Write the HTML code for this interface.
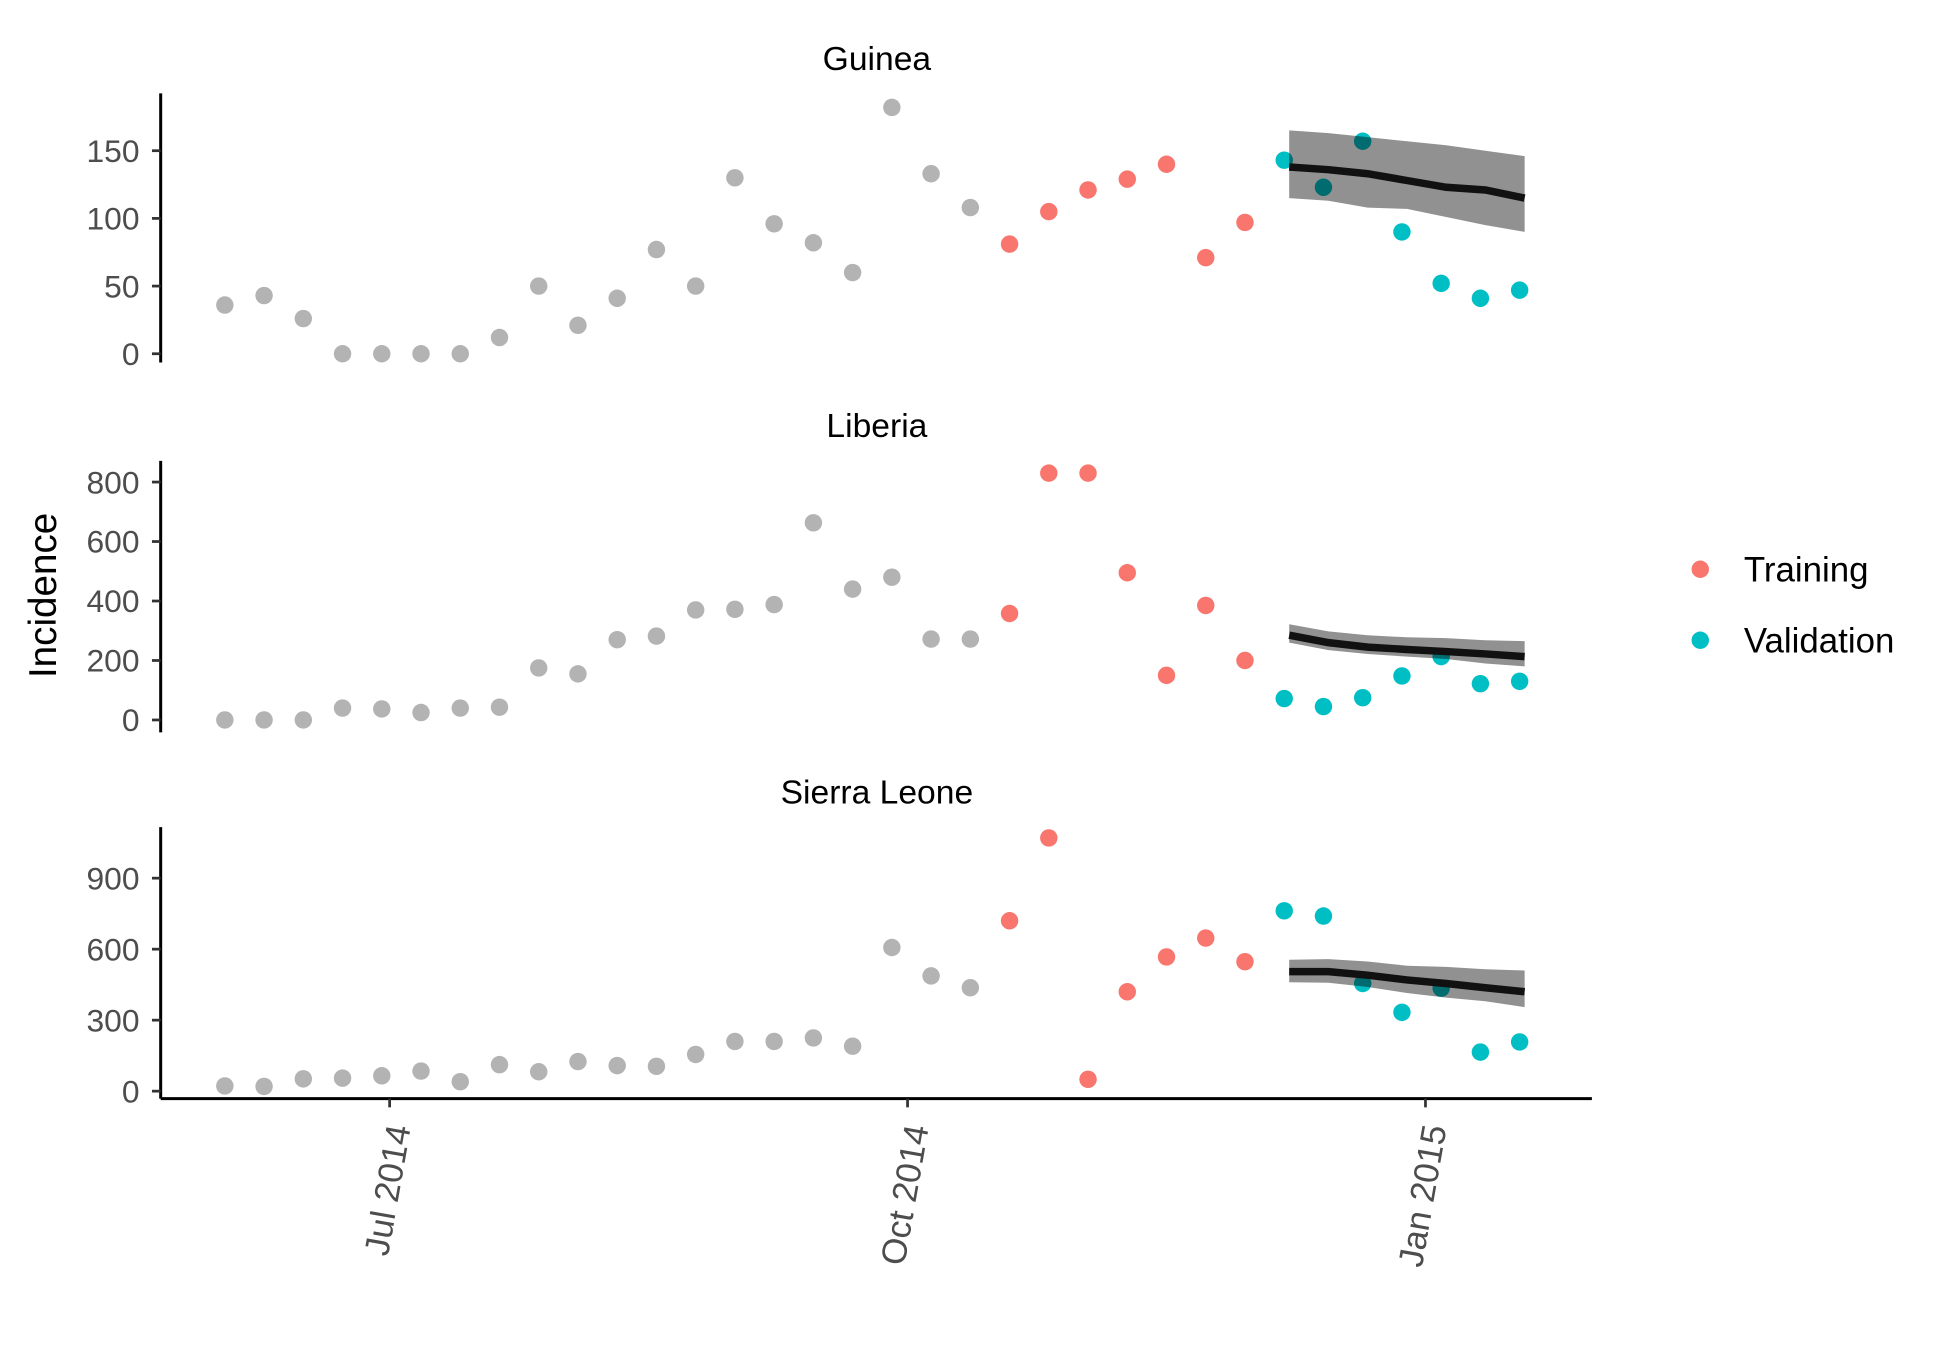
<!DOCTYPE html>
<html><head><meta charset="utf-8"><style>
html,body{margin:0;padding:0;background:#fff;}
svg{display:block;}
text{font-family:"Liberation Sans",Arial,sans-serif;}
</style></head><body>
<svg id="chart" width="1950" height="1349" viewBox="0 0 1565.5 1083" preserveAspectRatio="none" xmlns="http://www.w3.org/2000/svg">
<rect width="1570" height="1090" fill="#fff"/>
<text x="0" y="0" transform="translate(45,478) rotate(-90)" text-anchor="middle" font-size="31" fill="#000">Incidence</text>
<g>
<circle cx="1365" cy="457" r="7" fill="#F8766D"/>
<text x="1400" y="467" font-size="28">Training</text>
<circle cx="1365" cy="514" r="7" fill="#00BFC4"/>
<text x="1400" y="524" font-size="28">Validation</text>
</g>
</svg>
<script>
const countries = ["Guinea","Liberia","Sierra Leone"];
const guineaObs = [36,43,26,0,0,0,0,12,50,21,41,77,50,130,96,82,60,182,133,108,81,105,121,129,140,71,97,143,123,157,90,52,41,47];
const liberiaObs = [0,0,0,40,37,25,40,43,175,155,270,282,370,372,388,663,440,480,272,272,358,830,830,495,150,385,200,72,45,75,148,213,122,130];
const sierraObs = [22,20,52,55,65,85,40,112,82,125,108,105,155,210,210,225,190,607,487,437,720,1070,50,420,567,647,547,762,740,455,333,435,165,208];
const guineaMean = [138,136,133,128,123,121,115];
const guineaUpper = [165,163,160,157,154,150,146];
const guineaLower = [115,113,108,107,101,95,90];
const liberiaMean = [285,260,245,237,230,222,213];
const liberiaUpper = [322,298,285,278,275,268,265];
const liberiaLower = [260,235,222,213,205,190,180];
const sierraMean = [505,505,490,470,455,437,420];
const sierraUpper = [555,558,548,530,525,515,510];
const sierraLower = [460,458,440,415,395,380,355];
const guineaTicks = [0,50,100,150];
const liberiaTicks = [0,200,400,600,800];
const sierraTicks = [0,300,600,900];
const xTickLabels = ["Jul 2014","Oct 2014","Jan 2015"];
const xTickWeeks = [4.2,17.4,30.6];
const trainStart = 20, validStart = 27, forecastStart = 27;

const NS="http://www.w3.org/2000/svg";
const svg=document.getElementById('chart');
function mk(tag,attrs,parent){const e=document.createElementNS(NS,tag);for(const k in attrs)e.setAttribute(k,attrs[k]);(parent||svg).appendChild(e);return e;}
function xs(i){return 180.5+i*31.5;}
const panels=[
 {name:"guinea",obs:guineaObs,mean:guineaMean,up:guineaUpper,lo:guineaLower,ticks:guineaTicks,y0:284,yRef:121,vRef:150,top:75,bot:291,title:47},
 {name:"liberia",obs:liberiaObs,mean:liberiaMean,up:liberiaUpper,lo:liberiaLower,ticks:liberiaTicks,y0:578,yRef:387,vRef:800,top:370,bot:588,title:342},
 {name:"sierra-leone",obs:sierraObs,mean:sierraMean,up:sierraUpper,lo:sierraLower,ticks:sierraTicks,y0:876,yRef:705,vRef:900,top:664,bot:882,title:636}
];
panels.forEach((p,pi)=>{
 const ys=v=>p.y0-(v/p.vRef)*(p.y0-p.yRef);
 const g=mk('g',{});
 
 
 const t=mk('text',{x:704,y:p.title+9,'text-anchor':'middle','font-size':27,fill:'#000'},g);
 t.textContent=countries[pi];
 
 
 const ax=mk('line',{x1:129,x2:129,y1:p.top,y2:p.bot,stroke:'#000','stroke-width':2.4},g);
 
 
 p.ticks.forEach(v=>{
  mk('line',{x1:122,x2:129,y1:ys(v),y2:ys(v),stroke:'#333','stroke-width':2.2},g);
  const tl=mk('text',{x:112,y:ys(v)+9,'text-anchor':'end','font-size':25.5,fill:'#4d4d4d'},g);
  tl.textContent=v;
  
  
 });
 p.obs.forEach((v,i)=>{
  const c=mk('circle',{cx:xs(i),cy:ys(v),r:7,fill:i>=validStart?'#00BFC4':(i>=trainStart?'#F8766D':'#B3B3B3')},g);
  
  
 });
 let d='';
 p.up.forEach((v,i)=>{d+=(i?'L':'M')+(xs(forecastStart+i)+4)+','+ys(v);});
 for(let i=p.lo.length-1;i>=0;i--)d+='L'+(xs(forecastStart+i)+4)+','+ys(p.lo[i]);
 const rb=mk('path',{d:d+'Z',fill:'#000','fill-opacity':0.43},g);
 
 
 const pts=p.mean.map((v,i)=>(xs(forecastStart+i)+4)+','+ys(v)).join(' ');
 const ln=mk('polyline',{points:pts,fill:'none',stroke:'#111','stroke-width':6},g);
 
 
});
const xa=mk('line',{x1:129,x2:1278,y1:882,y2:882,stroke:'#000','stroke-width':2.4});


xTickLabels.forEach((lab,i)=>{
 const x=xs(xTickWeeks[i]);
 mk('line',{x1:x,x2:x,y1:882,y2:889,stroke:'#333','stroke-width':2.2});
 const tl=mk('text',{x:0,y:0,transform:`translate(${x+17},${905}) rotate(-80)`,'text-anchor':'end','font-size':28,fill:'#4d4d4d'});
 tl.textContent=lab;
 
 
});
</script>
</body></html>
